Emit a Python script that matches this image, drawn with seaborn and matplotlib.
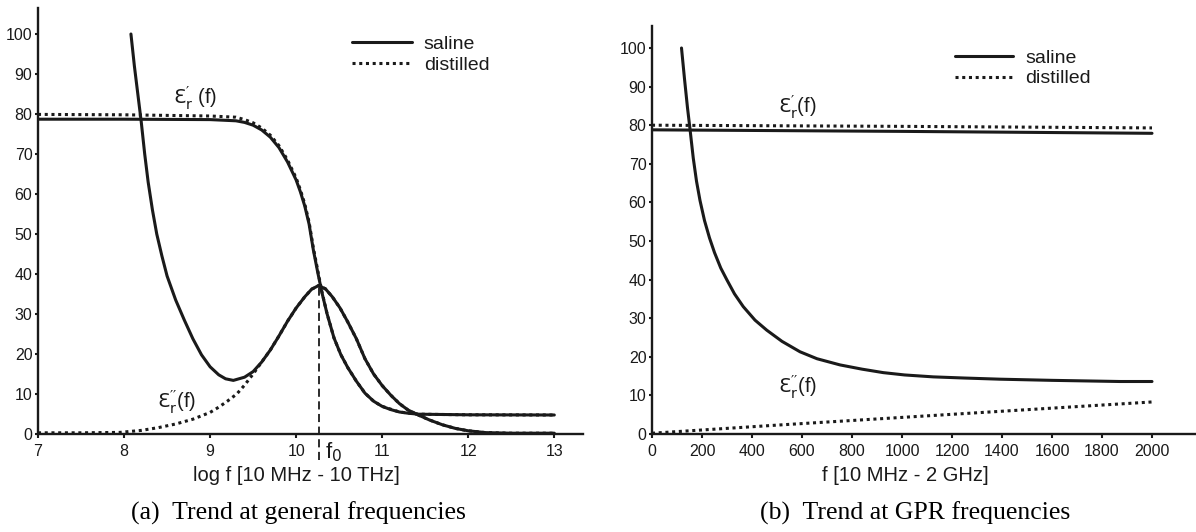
import numpy as np
import pandas as pd
import matplotlib
matplotlib.use("Agg")
import matplotlib.pyplot as plt
import seaborn as sns

# (a) general frequencies, x = log f
log_f_sal_re = [7, 8, 9, 9.3, 9.4, 9.5, 9.6, 9.7, 9.8, 9.9, 10.0, 10.05, 10.1, 10.15, 10.2,
                10.25, 10.3, 10.36, 10.44, 10.52, 10.6, 10.7, 10.8, 10.9, 11.0, 11.1, 11.2,
                11.3, 11.42, 12, 13]
eps_sal_re = [78.7, 78.7, 78.6, 78.3, 77.9, 77.2, 76, 74.2, 71.6, 68, 63.5, 60.5, 57, 52.5,
              46, 40.5, 35.3, 30, 24, 19.8, 16.6, 13.2, 10.2, 8.2, 6.9, 6.1, 5.5, 5.2, 4.95,
              4.8, 4.75]
log_f_dist_re = [7, 8, 9, 9.3, 9.4, 9.5, 9.6, 9.7, 9.8, 9.9, 10.0, 10.05, 10.1, 10.15, 10.2,
                 10.25, 10.3, 10.36, 10.44, 10.52, 10.6, 10.7, 10.8, 10.9, 11.0, 11.2, 11.42,
                 12, 13]
eps_dist_re = [79.9, 79.8, 79.5, 79.2, 78.6, 77.8, 76.5, 74.7, 72.1, 68.5, 64, 61, 57.5, 53,
               46.5, 41, 35.5, 30, 24, 19.8, 16.6, 13.2, 10.2, 8.2, 6.9, 5.5, 4.95, 4.8, 4.75]
log_f_sal_im = [8.08, 8.12, 8.16, 8.2, 8.24, 8.28, 8.33, 8.38, 8.44, 8.5, 8.6, 8.7, 8.8, 8.9,
                9.0, 9.1, 9.18, 9.27, 9.4, 9.5, 9.6, 9.7, 9.8, 9.9, 10.0, 10.1, 10.18, 10.26,
                10.34, 10.42, 10.51, 10.6, 10.7, 10.8, 10.9, 11.0, 11.1, 11.2, 11.3, 11.42,
                11.55, 11.7, 11.85, 12.0, 12.2, 12.5, 13.0]
eps_sal_im = [100, 92, 85, 78, 70, 63, 56, 50, 44.5, 39.5, 33.5, 28.5, 23.8, 19.8, 16.8, 14.8,
              13.8, 13.4, 14.2, 15.6, 18, 21, 24.5, 28.2, 31.5, 34.3, 36.2, 37.1, 36.3, 34.3,
              31.5, 28, 23.8, 18.8, 15, 12.1, 9.7, 7.6, 6, 4.75, 3.5, 2.3, 1.4, 0.8, 0.35,
              0.2, 0.2]
log_f_dist_im = [7, 7.5, 7.95, 8.2, 8.4, 8.6, 8.8, 9.0, 9.1, 9.2, 9.31, 9.4, 9.5, 9.6, 9.7,
                 9.8, 9.9, 10.0, 10.1, 10.18, 10.26, 10.34, 10.42, 10.51, 10.6, 10.7, 10.8,
                 10.9, 11.0, 11.1, 11.2, 11.3, 11.42, 11.55, 11.7, 11.85, 12.0, 12.2, 12.5, 13.0]
eps_dist_im = [0.3, 0.3, 0.4, 0.9, 1.6, 2.5, 3.7, 5.4, 6.7, 8.2, 10, 12.2, 15, 18, 21, 24.5,
               28.2, 31.5, 34.3, 36.2, 37.1, 36.3, 34.3, 31.5, 28, 23.8, 18.8, 15, 12.1, 9.7,
               7.6, 6, 4.75, 3.5, 2.3, 1.4, 0.8, 0.35, 0.2, 0.2]

# (b) GPR frequencies, x = f in MHz
f_re = [0, 1000, 2000]
eps_sal_re_gpr = [78.8, 78.4, 77.9]
eps_dist_re_gpr = [80.0, 79.7, 79.3]
f_sal_im = [118, 130, 142, 152, 165, 178, 192, 210, 230, 250, 275, 299, 330, 365, 412, 459,
            520, 592, 660, 752, 840, 925, 1010, 1125, 1250, 1392, 1600, 1872, 2000]
eps_sal_im_gpr = [100, 92, 84.5, 79, 71.5, 65.5, 60.5, 55.3, 50.8, 47, 43, 40, 36.3, 33,
                  29.5, 26.9, 24, 21.3, 19.5, 17.9, 16.8, 15.9, 15.3, 14.8, 14.5, 14.2, 13.9,
                  13.6, 13.6]
f_dist_im = [0, 500, 1000, 1500, 2000]
eps_dist_im_gpr = [0.2, 2.3, 4.3, 6.3, 8.3]

xticks_a = list(range(7, 14))
xticks_b = list(range(0, 2001, 200))
yticks = list(range(0, 101, 10))

sns.set_theme(style="ticks")
plt.rcParams["font.family"] = ["Liberation Sans", "DejaVu Sans"]
plt.rcParams["mathtext.fontset"] = "custom"
plt.rcParams["mathtext.rm"] = "DejaVu Sans"
plt.rcParams["mathtext.it"] = "DejaVu Sans"

ink = "#1a1a1a"
dot = (0, (1, 1.2))
lw = 2.2
eps1 = r"$\mathrm{Ɛ}_\mathrm{r}^{\prime}$"
eps2 = r"$\mathrm{Ɛ}_\mathrm{r}^{\prime\prime}$"

fig = plt.figure(figsize=(11.96, 5.32), dpi=100)
ax1 = fig.add_axes([38 / 1196, 98 / 532, 544.7 / 1196, 426 / 532])
ax2 = fig.add_axes([652 / 1196, 98 / 532, 545 / 1196, 408 / 532])


def style_axes(ax):
    for s in ["top", "right"]:
        ax.spines[s].set_visible(False)
    for s in ["left", "bottom"]:
        ax.spines[s].set_linewidth(1.7)
        ax.spines[s].set_color(ink)
    ax.tick_params(axis="y", direction="out", length=2.5, width=1.5, pad=1.5,
                   labelsize=11.5, colors=ink)
    ax.tick_params(axis="x", direction="out", length=3, width=1.5, pad=4,
                   labelsize=11.5, colors=ink)
    ax.set_yticks(yticks)
    ax.set_ylabel("")


# panel (a)
sns.lineplot(x=log_f_dist_re, y=eps_dist_re, ax=ax1, color=ink, lw=lw, ls=dot, sort=False)
sns.lineplot(x=log_f_dist_im, y=eps_dist_im, ax=ax1, color=ink, lw=lw, ls=dot, sort=False)
sns.lineplot(x=log_f_sal_re, y=eps_sal_re, ax=ax1, color=ink, lw=lw, sort=False)
sns.lineplot(x=log_f_sal_im, y=eps_sal_im, ax=ax1, color=ink, lw=lw, sort=False)
h_dist = ax1.lines[0]
h_sal = ax1.lines[2]

# resonance frequency marker at the loss peak
i_peak = int(np.argmax(eps_dist_im))
f0 = log_f_dist_im[i_peak]
ax1.plot([f0, f0], [-6.5, eps_dist_im[i_peak]], color=ink, lw=1.3, ls=(0, (4.5, 2.5)),
         clip_on=False)
ax1.text(f0 + 0.07, -4.6, r"f$_0$", fontsize=16, color=ink, ha="left", va="center")

ax1.set_xlim(7, 13.33)
ax1.set_ylim(0, 106.5)
ax1.set_xticks(xticks_a)
style_axes(ax1)
ax1.set_xlabel("log f [10 MHz - 10 THz]", fontsize=14.5, color=ink)
ax1.xaxis.set_label_coords((296 - 38) / 544.7, -0.075)
ax1.text(8.57, 84, eps1 + " (f)", fontsize=14.5, color=ink, ha="left", va="center")
ax1.text(8.38, 7.9, eps2 + "(f)", fontsize=14.5, color=ink, ha="left", va="center")
ax1.legend([h_sal, h_dist], ["saline", "distilled"], loc="upper left",
           bbox_to_anchor=(0.576, 0.935), frameon=False, fontsize=14, handlelength=3.1,
           handletextpad=0.6, labelspacing=0.15, borderpad=0, borderaxespad=0,
           labelcolor=ink)

# panel (b)
sns.lineplot(x=f_re, y=eps_dist_re_gpr, ax=ax2, color=ink, lw=lw, ls=dot, sort=False)
sns.lineplot(x=f_dist_im, y=eps_dist_im_gpr, ax=ax2, color=ink, lw=lw, ls=dot, sort=False)
sns.lineplot(x=f_re, y=eps_sal_re_gpr, ax=ax2, color=ink, lw=lw, sort=False)
sns.lineplot(x=f_sal_im, y=eps_sal_im_gpr, ax=ax2, color=ink, lw=lw, sort=False)
h_dist2 = ax2.lines[0]
h_sal2 = ax2.lines[2]

ax2.set_xlim(0, 2180)
ax2.set_ylim(0, 105.7)
ax2.set_xticks(xticks_b)
style_axes(ax2)
ax2.set_xlabel("f [10 MHz - 2 GHz]", fontsize=14.5, color=ink)
ax2.xaxis.set_label_coords((905 - 652) / 545, -0.078)
ax2.text(505, 84.7, eps1 + "(f)", fontsize=14.5, color=ink, ha="left", va="center")
ax2.text(504, 12.1, eps2 + "(f)", fontsize=14.5, color=ink, ha="left", va="center")
ax2.legend([h_sal2, h_dist2], ["saline", "distilled"], loc="upper left",
           bbox_to_anchor=(0.556, 0.943), frameon=False, fontsize=14, handlelength=3.0,
           handletextpad=0.6, labelspacing=0.15, borderpad=0, borderaxespad=0,
           labelcolor=ink)

# captions
fig.text(298 / 1196, 19 / 532, "(a)  Trend at general frequencies", family="Liberation Serif",
         fontsize=18.5, color="black", ha="center", va="center")
fig.text(915 / 1196, 19 / 532, "(b)  Trend at GPR frequencies", family="Liberation Serif",
         fontsize=18.5, color="black", ha="center", va="center")

fig.savefig("out.png", dpi=100)
